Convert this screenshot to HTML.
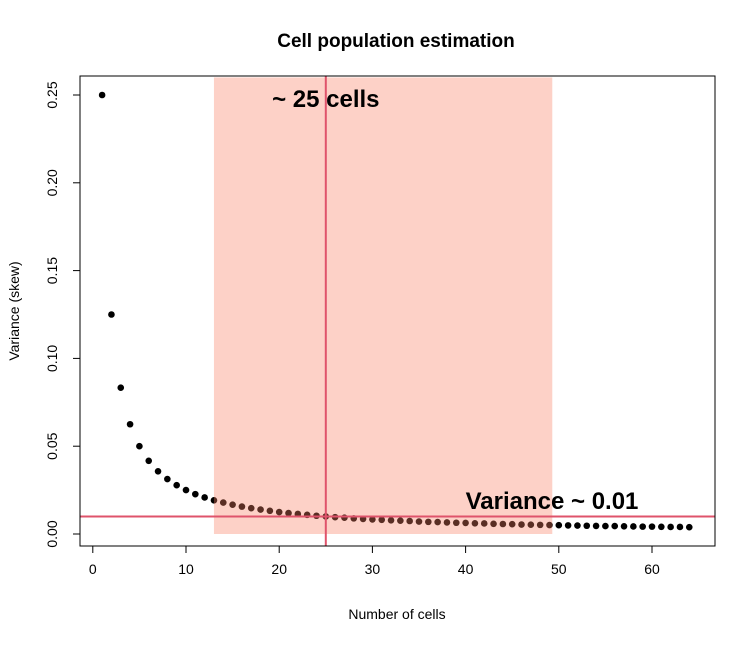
<!DOCTYPE html>
<html><head><meta charset="utf-8"><style>
body{margin:0;background:#fff}
svg text{font-family:"Liberation Sans",Arial,sans-serif}
</style></head><body>
<svg id="c" width="755" height="643" xmlns="http://www.w3.org/2000/svg"></svg>
<script>
const xValues=[1,2,3,4,5,6,7,8,9,10,11,12,13,14,15,16,17,18,19,20,21,22,23,24,25,26,27,28,29,30,31,32,33,34,35,36,37,38,39,40,41,42,43,44,45,46,47,48,49,50,51,52,53,54,55,56,57,58,59,60,61,62,63,64];
const yValues=[0.25,0.125,0.0833,0.0625,0.05,0.0417,0.0357,0.0313,0.0278,0.025,0.0227,0.0208,0.0192,0.0179,0.0167,0.0156,0.0147,0.0139,0.0132,0.0125,0.0119,0.0114,0.0109,0.0104,0.01,0.0096,0.0093,0.0089,0.0086,0.0083,0.0081,0.0078,0.0076,0.0074,0.0071,0.0069,0.0068,0.0066,0.0064,0.0063,0.0061,0.006,0.0058,0.0057,0.0056,0.0054,0.0053,0.0052,0.0051,0.005,0.0049,0.0048,0.0047,0.0046,0.0045,0.0045,0.0044,0.0043,0.0042,0.0042,0.0041,0.004,0.004,0.0039];
const xTicks=[0,10,20,30,40,50,60];
const yTicks=[0,0.05,0.10,0.15,0.20,0.25];
const yTickLabels=["0.00","0.05","0.10","0.15","0.20","0.25"];
const bandRange=[13,49.3];
const bandTop=0.26;
const cellsLine=25;
const varianceLine=0.01;
const X=v=>92.8+v*9.32;
const Y=v=>534-v*1756;
const s=document.getElementById('c');
const NS='http://www.w3.org/2000/svg';
function add(tag,attrs,name,txt){const e=document.createElementNS(NS,tag);for(const k in attrs)e.setAttribute(k,attrs[k]);


if(txt!==undefined)e.textContent=txt;s.appendChild(e);return e;}
add('text',{x:396,y:47,'text-anchor':'middle','font-size':19,'font-weight':'bold'},'chart-title','Cell population estimation');
xValues.forEach((x,i)=>{const p=add('circle',{cx:X(x),cy:Y(yValues[i]),r:3.3,fill:'#000'},'data-point');});
add('rect',{x:X(bandRange[0]),y:Y(bandTop),width:X(bandRange[1])-X(bandRange[0]),height:Y(0)-Y(bandTop),fill:'rgb(250,128,100)','fill-opacity':0.36},'shaded-range');
add('line',{x1:X(cellsLine),x2:X(cellsLine),y1:76,y2:546,stroke:'#DF536B','stroke-width':2},'cells-line');
add('line',{x1:80,x2:715,y1:Y(varianceLine),y2:Y(varianceLine),stroke:'#DF536B','stroke-width':2},'variance-line');
add('text',{x:X(cellsLine),y:107,'text-anchor':'middle','font-size':24,'font-weight':'bold'},'cells-annotation','~ 25 cells');
add('text',{x:552,y:509,'text-anchor':'middle','font-size':24,'font-weight':'bold'},'variance-annotation','Variance ~ 0.01');
add('rect',{x:80,y:76,width:635,height:470,fill:'none',stroke:'#000','stroke-width':1},'plot-frame');
add('line',{x1:X(0),x2:X(60),y1:546,y2:546,stroke:'#000'},'x-axis');
xTicks.forEach(t=>{add('line',{x1:X(t),x2:X(t),y1:546,y2:553,stroke:'#000'},'x-tick');
add('text',{x:X(t),y:574,'text-anchor':'middle','font-size':14},'x-tick-label',String(t));});
add('line',{x1:80,x2:80,y1:Y(0),y2:Y(0.25),stroke:'#000'},'y-axis');
yTicks.forEach((t,i)=>{add('line',{x1:73,x2:80,y1:Y(t),y2:Y(t),stroke:'#000'},'y-tick');
add('text',{x:57,y:Y(t),'text-anchor':'middle','font-size':14,transform:`rotate(-90 57 ${Y(t)})`},'y-tick-label',yTickLabels[i]);});
add('text',{x:397,y:619,'text-anchor':'middle','font-size':14},'x-axis-title','Number of cells');
add('text',{x:19,y:311,'text-anchor':'middle','font-size':14,transform:'rotate(-90 19 311)'},'y-axis-title','Variance (skew)');
</script>
</body></html>
